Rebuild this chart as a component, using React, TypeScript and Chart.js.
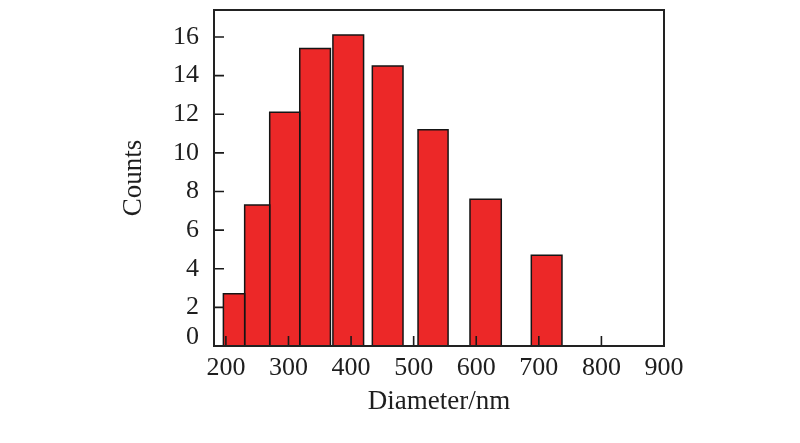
import React, { useEffect, useRef } from "react";
import { Chart, registerables } from "chart.js";

Chart.register(...registerables);

// Histogram bins (nm) and counts
const binStart = [196, 230, 270, 318, 371, 434, 507, 590, 688];
const binEnd = [230, 270, 318, 367, 420, 483, 555, 640, 737];
const counts = [2.7, 7.3, 12.1, 15.4, 16.1, 14.5, 11.2, 7.6, 4.7];

const xTicks = [200, 300, 400, 500, 600, 700, 800, 900];
const yTicks = [0, 2, 4, 6, 8, 10, 12, 14, 16];
const xRange = [181, 900];
const yRange = [0, 17.4];
const xTitle = "Diameter/nm";
const yTitle = "Counts";

const FONT = "'Liberation Serif', 'Times New Roman', serif";
const TEXT = "#1e1e1e";

const framePlugin = {
  id: "frameAndInwardTicks",
  afterDatasetsDraw(chart: any) {
    const { ctx, chartArea: a, scales } = chart;
    ctx.save();
    ctx.strokeStyle = "#1a1a1a";
    ctx.lineWidth = 1.6;
    ctx.beginPath();
    for (const t of scales.x.ticks) {
      const px = scales.x.getPixelForValue(t.value);
      if (px > a.left + 1 && px < a.right - 1) {
        ctx.moveTo(px, a.bottom);
        ctx.lineTo(px, a.bottom - 10);
      }
    }
    for (const t of scales.y.ticks) {
      const py = scales.y.getPixelForValue(t.value);
      if (py > a.top + 1 && py < a.bottom - 1) {
        ctx.moveTo(a.left, py);
        ctx.lineTo(a.left + 10, py);
      }
    }
    ctx.stroke();
    ctx.lineWidth = 2;
    ctx.strokeStyle = "#222";
    ctx.strokeRect(a.left, a.top, a.right - a.left, a.bottom - a.top);
    ctx.restore();
  },
};

export default function App() {
  const ref = useRef<HTMLCanvasElement>(null);

  useEffect(() => {
    document.body.style.margin = "0";
    const canvas = ref.current;
    if (!canvas) return;

    const datasets = counts.map((c, i) => ({
      label: `bin${i}`,
      data: [
        { x: binStart[i], y: 0 },
        { x: binStart[i], y: c },
        { x: binEnd[i], y: c },
        { x: binEnd[i], y: 0 },
      ],
      fill: "origin",
      backgroundColor: "rgb(236, 40, 40)",
      borderColor: "#151515",
      borderWidth: 1.5,
      pointRadius: 0,
      tension: 0,
    }));

    const chart = new Chart(canvas, {
      type: "line",
      data: { datasets: datasets as any },
      plugins: [framePlugin],
      options: {
        animation: false,
        responsive: false,
        devicePixelRatio: 1,
        layout: { padding: { top: 10, right: 136, left: 0, bottom: 0 } },
        plugins: { legend: { display: false }, tooltip: { enabled: false } },
        scales: {
          x: {
            type: "linear",
            min: xRange[0],
            max: xRange[1],
            afterBuildTicks: (s: any) => {
              s.ticks = xTicks.map((v) => ({ value: v }));
            },
            afterFit: (s: any) => {
              s.height = 97;
              s.paddingLeft = 0;
              s.paddingRight = 0;
            },
            grid: { display: false, drawTicks: false },
            border: { display: false },
            ticks: {
              color: TEXT,
              padding: 7,
              maxRotation: 0,
              autoSkip: false,
              font: { family: FONT, size: 26 },
              callback: (v: any) => String(v),
            },
            title: {
              display: true,
              text: xTitle,
              color: TEXT,
              font: { family: FONT, size: 27 },
              padding: { top: 0, bottom: 25 },
            },
          },
          y: {
            type: "linear",
            min: yRange[0],
            max: yRange[1],
            afterBuildTicks: (s: any) => {
              s.ticks = yTicks.map((v) => ({ value: v }));
            },
            afterFit: (s: any) => {
              s.width = 214;
              s.paddingTop = 0;
              s.paddingBottom = 0;
            },
            grid: { display: false, drawTicks: false },
            border: { display: false },
            ticks: {
              color: TEXT,
              padding: 15,
              autoSkip: false,
              font: { family: FONT, size: 26, lineHeight: "18px" },
              // the "0" label sits raised above the axis line in the reference
              callback: (v: any) => (Number(v) === 0 ? ["0", ""] : String(v)),
            },
            title: {
              display: true,
              text: yTitle,
              color: TEXT,
              font: { family: FONT, size: 27 },
              padding: { top: 118, bottom: 0 },
            },
          },
        },
      },
    });

    return () => chart.destroy();
  }, []);

  return <canvas ref={ref} width={800} height={443} style={{ display: "block" }} />;
}
